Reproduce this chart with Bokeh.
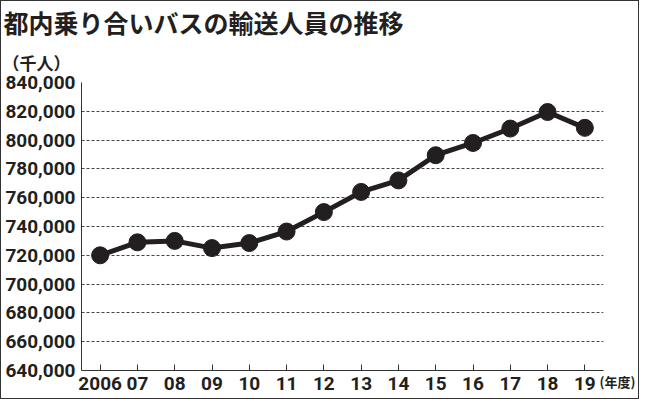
from bokeh.plotting import figure
from bokeh.models import FixedTicker, Range1d, Title, LinearAxis
from bokeh.embed import file_html
from bokeh.resources import INLINE

# ---- data ----
years = [2006, 2007, 2008, 2009, 2010, 2011, 2012, 2013, 2014, 2015, 2016, 2017, 2018, 2019]
year_labels = ["2006", "07", "08", "09", "10", "11", "12", "13", "14", "15", "16", "17", "18", "19"]
riders = [720000, 729000, 730000, 725000, 728500, 736500, 750000, 764000, 772000, 789500, 798000, 808000, 819500, 808500]
y_ticks = [640000, 660000, 680000, 700000, 720000, 740000, 760000, 780000, 800000, 820000, 840000]
y_tick_labels = ["640,000", "660,000", "680,000", "700,000", "720,000", "740,000",
                 "760,000", "780,000", "800,000", "820,000", "840,000"]
title_text = "都内乗り合いバスの輸送人員の推移"
unit_text = "（千人）"
x_unit_text = "(年度)"

INK = "#231f20"
NUM_FONT = "Roboto"
JP_FONT = "Noto Sans CJK JP"

p = figure(frame_width=522, frame_height=288, output_backend="svg", toolbar_location=None,
           x_range=Range1d(2005.5, 2019.5), y_range=Range1d(640000, 840000),
           min_border_left=80, min_border_right=32, min_border_top=78, min_border_bottom=28)
p.styles = {"border": "1px solid #333333"}
p.outline_line_color = None
p.background_fill_color = "white"
p.border_fill_color = "white"

# main title (outermost) and unit note (nearest the frame)
p.title.text = title_text
p.title.text_font = JP_FONT
p.title.text_font_size = "25px"
p.title.text_font_style = "bold"
p.title.text_color = INK
p.title.align = "left"
p.title.offset = -78
p.title.standoff = 0
p.add_layout(Title(text=unit_text, text_font=JP_FONT, text_font_size="17px",
                   text_font_style="bold", text_color=INK, align="left", offset=-79,
                   standoff=16), "above")

# axes
p.xaxis.ticker = FixedTicker(ticks=years)
p.xaxis.major_label_overrides = {y: l for y, l in zip(years, year_labels)}
p.xaxis.major_tick_in = 6
p.xaxis.major_tick_out = 0
p.xaxis.minor_tick_line_color = None
p.xaxis.axis_line_color = "#333333"
p.xaxis.major_tick_line_color = "#333333"
p.xaxis.major_label_standoff = 6

p.yaxis.ticker = FixedTicker(ticks=y_ticks)
p.yaxis.major_label_overrides = {t: l for t, l in zip(y_ticks, y_tick_labels)}
p.yaxis.major_tick_in = 0
p.yaxis.major_tick_out = 0
p.yaxis.minor_tick_line_color = None
p.yaxis.axis_line_color = "#333333"
p.yaxis.major_label_standoff = 6

for ax in (p.xaxis, p.yaxis):
    ax.major_label_text_font = NUM_FONT
    ax.major_label_text_font_size = "19px"
    ax.major_label_text_font_style = "bold"
    ax.major_label_text_color = INK

# right-hand axis carrying only the "(年度)" note next to the year labels
p.extra_y_ranges = {"unit": Range1d(0, 1)}
unit_axis = LinearAxis(y_range_name="unit", ticker=FixedTicker(ticks=[0]),
                       major_label_overrides={0: "\n" + x_unit_text})
unit_axis.axis_line_color = None
unit_axis.major_tick_line_color = None
unit_axis.minor_tick_line_color = None
unit_axis.major_tick_in = 0
unit_axis.major_tick_out = 0
unit_axis.major_label_standoff = -4
unit_axis.major_label_text_font = JP_FONT
unit_axis.major_label_text_font_size = "13px"
unit_axis.major_label_text_font_style = "bold"
unit_axis.major_label_text_color = INK
p.add_layout(unit_axis, "right")

p.xgrid.grid_line_color = None
p.ygrid.ticker = FixedTicker(ticks=y_ticks[1:])
p.ygrid.grid_line_color = "#444444"
p.ygrid.grid_line_dash = "3 2"
p.ygrid.grid_line_width = 1

# series
p.line(years, riders, line_width=5, color=INK)
p.scatter(years, riders, size=17, color=INK)

open("out.html", "w").write(file_html(p, INLINE))
